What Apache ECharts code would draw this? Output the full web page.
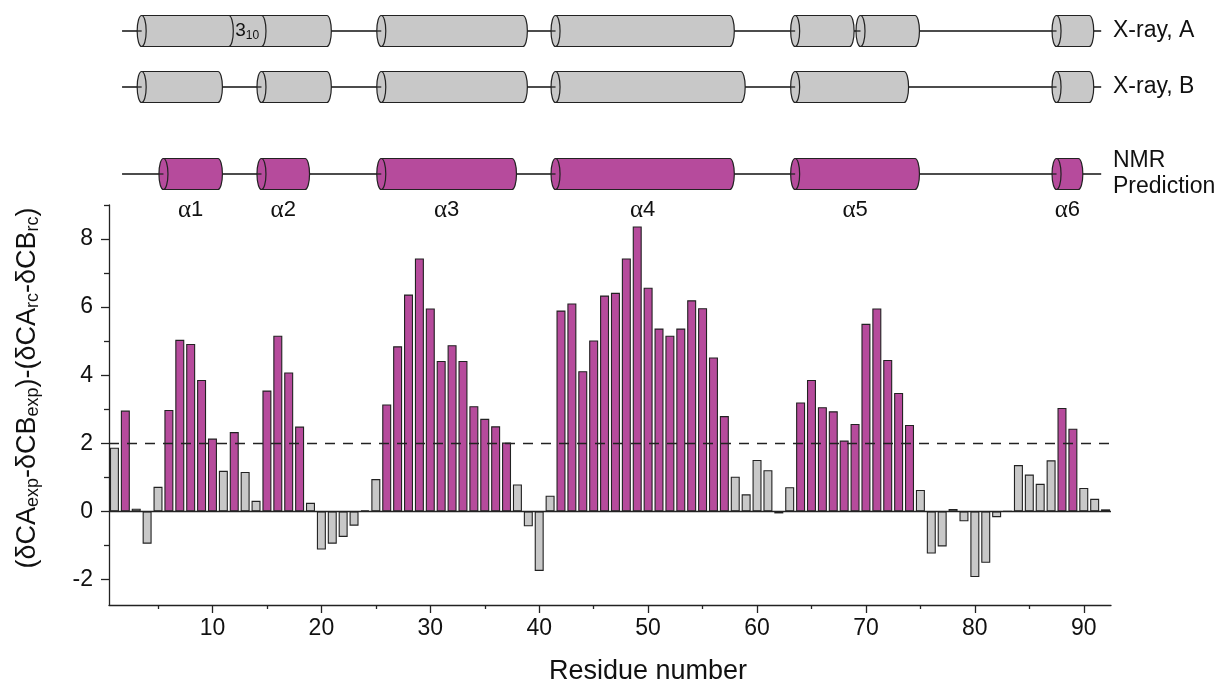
<!DOCTYPE html>
<html>
<head>
<meta charset="utf-8">
<script src="https://cdn.jsdelivr.net/npm/echarts@6/dist/echarts.min.js"></script>
<style>
  html, body { margin: 0; padding: 0; background: #fff; }
  #chart { width: 1218px; height: 684px; }
</style>
</head>
<body>
<div id="chart"></div>
<script>
// Secondary chemical shift difference per residue (residues 1..92)
const SHIFT = [
  1.87, 2.96, 0.08, -0.95, 0.72, 2.98, 5.04, 4.92, 3.86, 2.14,
  1.19, 2.33, 1.16, 0.31, 3.55, 5.16, 4.08, 2.49, 0.25, -1.12,
  -0.95, -0.75, -0.42, 0.03, 0.95, 3.14, 4.85, 6.37, 7.43, 5.96,
  4.42, 4.88, 4.42, 3.09, 2.72, 2.50, 2.02, 0.79, -0.44, -1.75,
  0.46, 5.90, 6.11, 4.12, 5.02, 6.34, 6.42, 7.43, 8.37, 6.57,
  5.37, 5.16, 5.37, 6.20, 5.97, 4.52, 2.80, 1.02, 0.50, 1.51,
  1.21, -0.06, 0.71, 3.20, 3.86, 3.06, 2.94, 2.08, 2.57, 5.51,
  5.96, 4.45, 3.48, 2.54, 0.63, -1.24, -1.03, 0.07, -0.29, -1.93,
  -1.51, -0.17, 0.00, 1.36, 1.08, 0.81, 1.50, 3.04, 2.43, 0.69,
  0.37, 0.06
];
const HELIX_THRESHOLD = 2;

// Helix ranges [first residue, last residue]
const XRAY_A_HELICES = [[4, 20], [26, 38], [42, 57], [64, 68], [70, 74], [88, 90]];
const XRAY_A_310 = [12, 14];
const XRAY_B_HELICES = [[4, 10], [15, 20], [26, 38], [42, 58], [64, 73], [88, 90]];
const NMR_HELICES = [[6, 10], [15, 18], [26, 37], [42, 57], [64, 74], [88, 89]];
const NMR_NAMES = ['1', '2', '3', '4', '5', '6'];
const BACKBONE = [1.7, 91.6];

const ROW_LABELS = ['X-ray, A', 'X-ray, B', 'NMR\nPrediction'];
const X_TITLE = 'Residue number';

const X_MAJOR = [10, 20, 30, 40, 50, 60, 70, 80, 90];
const X_MINOR = [5, 15, 25, 35, 45, 55, 65, 75, 85];
const Y_MAJOR = [-2, 0, 2, 4, 6, 8];
const Y_MINOR = [-1, 1, 3, 5, 7, 9];

// ---- styling ----
const MAGENTA = '#b64b9c';
const GREY = '#c8c8c8';
const INK = '#111';
const EDGE = '#222';
const SANS = '"Liberation Sans", Arial, sans-serif';
const SERIF = '"Liberation Serif", "Times New Roman", serif';

// vertical placement of the three schematic rows (pixel units of the upper panel)
const ROW_Y = [31, 87, 174];
const CYL_RY = 15.5;
const CYL_RX = 4.5;

const chart = echarts.init(document.getElementById('chart'), null, { renderer: 'canvas' });

const barData = SHIFT.map((v, i) => ({
  value: [i + 1, v],
  itemStyle: { color: v >= HELIX_THRESHOLD ? MAGENTA : GREY }
}));

function cylinderRender(fill) {
  return function (params, api) {
    const s = api.value(0), e = api.value(1), row = api.value(2);
    const yc = api.coord([0, ROW_Y[row]])[1];
    const x0 = api.coord([s - 0.5, 0])[0];
    const x1 = api.coord([e + 0.5, 0])[0];
    const yt = yc - CYL_RY, yb = yc + CYL_RY;
    const rx = CYL_RX, ry = CYL_RY;
    const body = `M${x0},${yt} L${x1},${yt} A${rx},${ry} 0 0 1 ${x1},${yb} L${x0},${yb} Z`;
    const face = `M${x0},${yt} A${rx},${ry} 0 1 0 ${x0},${yb} A${rx},${ry} 0 1 0 ${x0},${yt} Z`;
    const stroke = { stroke: EDGE, lineWidth: 1.2 };
    return {
      type: 'group',
      children: [
        { type: 'path', shape: { pathData: body }, style: Object.assign({ fill: fill }, stroke) },
        { type: 'path', shape: { pathData: face }, style: Object.assign({ fill: fill }, stroke) },
        { type: 'line', shape: { x1: x0 - rx, y1: yc, x2: x0, y2: yc }, style: { stroke: EDGE, lineWidth: 1.3 } }
      ]
    };
  };
}

function rowData(helices, row) {
  return helices.map(h => [h[0], h[1], row]);
}

const upperAxes = { xAxisIndex: 2, yAxisIndex: 2 };

const series = [
  {
    type: 'bar',
    xAxisIndex: 0, yAxisIndex: 0,
    data: barData,
    barWidth: 9,
    itemStyle: { borderColor: EDGE, borderWidth: 1.1 },
    silent: true,
    markLine: {
      silent: true,
      symbol: 'none',
      label: { show: false },
      data: [
        { yAxis: HELIX_THRESHOLD, lineStyle: { type: [10, 8], color: '#222', width: 1.3 } },
        { yAxis: 0, lineStyle: { type: 'solid', color: EDGE, width: 1.3 } }
      ]
    }
  },
  // backbone lines
  Object.assign({
    type: 'custom',
    data: [[BACKBONE[0], BACKBONE[1], 0], [BACKBONE[0], BACKBONE[1], 1], [BACKBONE[0], BACKBONE[1], 2]],
    renderItem: function (params, api) {
      const a = api.coord([api.value(0), ROW_Y[api.value(2)]]);
      const b = api.coord([api.value(1), ROW_Y[api.value(2)]]);
      return { type: 'line', shape: { x1: a[0], y1: a[1], x2: b[0], y2: b[1] }, style: { stroke: '#111', lineWidth: 1.3 } };
    },
    silent: true, z: 1
  }, upperAxes),
  Object.assign({ type: 'custom', data: rowData(XRAY_A_HELICES, 0), renderItem: cylinderRender(GREY), silent: true, z: 3 }, upperAxes),
  Object.assign({ type: 'custom', data: rowData(XRAY_B_HELICES, 1), renderItem: cylinderRender(GREY), silent: true, z: 3 }, upperAxes),
  Object.assign({ type: 'custom', data: rowData(NMR_HELICES, 2), renderItem: cylinderRender(MAGENTA), silent: true, z: 3 }, upperAxes),
  // 3-10 helix segment inside the first X-ray A cylinder
  Object.assign({
    type: 'custom',
    data: [[XRAY_A_310[0], XRAY_A_310[1], 0]],
    renderItem: function (params, api) {
      const yc = api.coord([0, ROW_Y[api.value(2)]])[1];
      const xa = api.coord([api.value(0) - 0.5, 0])[0];
      const xb = api.coord([api.value(1) + 0.5, 0])[0];
      const yt = yc - CYL_RY, yb = yc + CYL_RY;
      const arc = x => `M${x},${yt} A${CYL_RX},${CYL_RY} 0 0 1 ${x},${yb}`;
      return {
        type: 'group',
        children: [
          { type: 'path', shape: { pathData: arc(xa) }, style: { fill: null, stroke: EDGE, lineWidth: 1.2 } },
          { type: 'path', shape: { pathData: arc(xb) }, style: { fill: null, stroke: EDGE, lineWidth: 1.2 } },
          {
            type: 'text', x: (xa + xb) / 2 + 2, y: yc,
            style: {
              text: '{n|3}{s|10}', align: 'center', verticalAlign: 'middle',
              rich: {
                n: { fontSize: 19, fontFamily: SANS, fill: INK, lineHeight: 22, verticalAlign: 'middle' },
                s: { fontSize: 12, fontFamily: SANS, fill: INK, lineHeight: 12, verticalAlign: 'bottom' }
              }
            }
          }
        ]
      };
    },
    silent: true, z: 4
  }, upperAxes),
  // helix names under the NMR row
  Object.assign({
    type: 'custom',
    data: NMR_HELICES.map((h, i) => [h[0], h[1], i]),
    renderItem: function (params, api) {
      const xm = api.coord([(api.value(0) + api.value(1)) / 2, 0])[0];
      const y = api.coord([0, ROW_Y[2]])[1] + 36;
      return {
        type: 'text', x: xm, y: y,
        style: {
          text: '{a|α}{d|' + NMR_NAMES[api.value(2)] + '}', align: 'center', verticalAlign: 'middle',
          rich: {
            a: { fontSize: 25, fontFamily: SERIF, fill: INK },
            d: { fontSize: 22, fontFamily: SANS, fill: INK }
          }
        }
      };
    },
    silent: true, z: 4
  }, upperAxes)
];

const axisLineStyle = { color: EDGE, width: 1.3 };

const option = {
  animation: false,
  backgroundColor: '#fff',
  grid: [
    { left: 109, right: 107, top: 205, bottom: 79 },
    { left: 109, right: 107, top: 0, height: 205 }
  ],
  xAxis: [
    {
      gridIndex: 0, type: 'value', min: 0.5, max: 92.5, position: 'bottom',
      axisLine: { show: true, onZero: false, lineStyle: axisLineStyle },
      axisTick: { show: true, length: 8, customValues: X_MAJOR, lineStyle: axisLineStyle },
      axisLabel: { customValues: X_MAJOR, fontSize: 23, fontFamily: SANS, color: INK, margin: 12 },
      splitLine: { show: false }
    },
    {
      gridIndex: 0, type: 'value', min: 0.5, max: 92.5, position: 'bottom',
      axisLine: { show: false, onZero: false },
      axisTick: { show: true, length: 4, customValues: X_MINOR, lineStyle: axisLineStyle },
      axisLabel: { show: false },
      splitLine: { show: false }
    },
    { gridIndex: 1, type: 'value', min: 0.5, max: 92.5, show: false }
  ],
  yAxis: [
    {
      gridIndex: 0, type: 'value', min: -2.75, max: 9, position: 'left',
      axisLine: { show: true, onZero: false, lineStyle: axisLineStyle },
      axisTick: { show: true, length: 8, customValues: Y_MAJOR, lineStyle: axisLineStyle },
      axisLabel: { customValues: Y_MAJOR, fontSize: 23, fontFamily: SANS, color: INK, margin: 16 },
      splitLine: { show: false }
    },
    {
      gridIndex: 0, type: 'value', min: -2.75, max: 9, position: 'left',
      axisLine: { show: false, onZero: false },
      axisTick: { show: true, length: 5, customValues: Y_MINOR, lineStyle: axisLineStyle },
      axisLabel: { show: false },
      splitLine: { show: false }
    },
    { gridIndex: 1, type: 'value', min: 0, max: 205, inverse: true, show: false }
  ],
  graphic: [
    {
      type: 'text', x: 28, y: 388, rotation: Math.PI / 2,
      style: {
        text: '{n|(δCA}{s|exp}{n|-δCB}{s|exp}{n|)-(δCA}{s|rc}{n|-δCB}{s|rc}{n|)}',
        align: 'center', verticalAlign: 'middle',
        rich: {
          n: { fontSize: 27, fontFamily: SANS, fill: INK, lineHeight: 28, verticalAlign: 'middle' },
          s: { fontSize: 18, fontFamily: SANS, fill: INK, lineHeight: 18, verticalAlign: 'bottom' }
        }
      }
    },
    {
      type: 'text', x: 648, y: 672,
      style: { text: X_TITLE, fontSize: 27, fontFamily: SANS, fill: INK, align: 'center', verticalAlign: 'middle' }
    },
    {
      type: 'text', x: 1113, y: ROW_Y[0],
      style: { text: ROW_LABELS[0], fontSize: 23, fontFamily: SANS, fill: INK, verticalAlign: 'middle' }
    },
    {
      type: 'text', x: 1113, y: ROW_Y[1],
      style: { text: ROW_LABELS[1], fontSize: 23, fontFamily: SANS, fill: INK, verticalAlign: 'middle' }
    },
    {
      type: 'text', x: 1113, y: ROW_Y[2],
      style: { text: ROW_LABELS[2], fontSize: 23, lineHeight: 26, fontFamily: SANS, fill: INK, verticalAlign: 'middle' }
    }
  ],
  series: series
};

chart.setOption(option);
</script>
</body>
</html>
